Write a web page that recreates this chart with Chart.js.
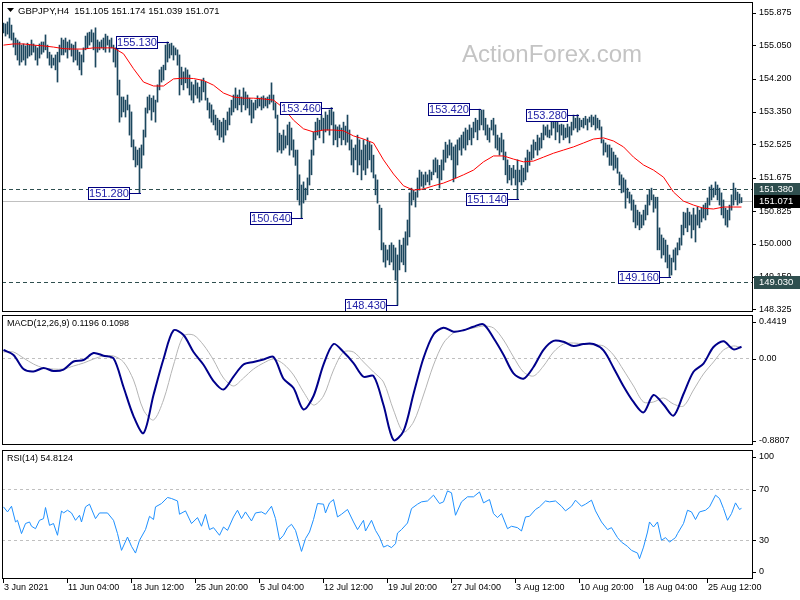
<!DOCTYPE html>
<html>
<head>
<meta charset="utf-8">
<script src="https://cdn.jsdelivr.net/npm/chart.js@4.4.0/dist/chart.umd.min.js"></script>
<style>
body { margin: 0; background: #fff; }
#wrap { position: relative; width: 800px; height: 600px; background: #fff; overflow: hidden; }
canvas { position: absolute; left: 0; }
</style>
</head>
<body>
<div id="wrap">
  <canvas id="priceChart" width="800" height="313" style="top:0px"></canvas>
  <canvas id="macdChart" width="800" height="133" style="top:313px"></canvas>
  <canvas id="rsiChart" width="800" height="154" style="top:446px"></canvas>
</div>
<script>
const FONT = '"Liberation Sans", Arial, sans-serif';
Chart.defaults.font.family = FONT;

// H4 bars, oldest first (index = bar number)
const highs = [
  155.61,155.59,155.64,155.74,155.56,155.36,155.23,155.18,155.13,155.05,
  155.08,155.03,155.10,155.05,155.18,155.08,155.03,154.98,155.08,155.13,
  155.13,155.31,155.05,154.87,154.80,154.72,154.80,154.87,155.05,155.23,
  155.18,155.23,155.13,155.18,155.08,155.05,155.13,154.93,154.87,154.80,
  154.98,155.28,155.36,155.38,155.44,155.36,155.49,155.18,155.13,155.18,
  155.23,155.33,155.28,155.18,155.23,155.05,154.98,154.98,154.16,153.73,
  153.73,153.65,153.78,153.53,153.35,152.64,152.46,152.38,152.43,152.51,
  152.89,153.45,153.73,153.78,153.70,153.76,153.65,154.04,154.42,154.49,
  154.54,155.05,155.13,155.08,155.10,155.03,154.98,154.93,154.80,154.49,
  154.37,154.47,154.42,154.29,154.11,154.04,154.16,154.09,153.98,154.16,
  154.21,154.11,153.70,153.58,153.53,153.40,153.27,153.19,153.14,153.09,
  153.19,153.14,153.35,153.45,153.65,153.78,153.96,153.78,153.91,153.73,
  153.96,153.86,153.78,153.70,153.65,153.58,153.65,153.76,153.70,153.73,
  153.76,153.70,153.73,153.78,154.09,153.78,153.58,153.27,152.81,152.76,
  152.89,152.74,153.02,153.09,152.94,152.64,152.38,152.38,151.75,151.49,
  151.57,151.41,151.67,152.13,152.38,152.84,153.09,153.19,153.14,153.27,
  153.19,153.35,153.27,153.40,153.46,153.35,153.02,152.97,153.02,152.94,
  153.09,152.99,153.27,152.89,152.64,152.43,152.51,152.76,152.64,152.38,
  152.64,152.51,152.69,152.58,152.51,152.25,151.75,151.62,150.98,150.90,
  150.02,149.96,149.84,149.96,150.02,149.96,149.89,149.71,150.09,149.96,
  150.14,150.30,150.60,151.29,151.41,151.36,151.31,151.67,151.87,151.82,
  151.75,151.82,151.75,151.87,151.82,152.13,152.18,152.13,151.99,152.13,
  152.38,152.58,152.51,152.64,152.56,152.46,152.51,152.64,152.69,152.76,
  152.84,152.94,152.89,153.02,152.94,153.09,153.19,153.14,153.42,153.40,
  153.40,153.19,153.02,152.94,153.14,153.19,153.02,152.76,152.69,152.81,
  152.64,152.33,152.13,151.99,151.92,151.99,151.87,152.13,151.87,151.99,
  151.92,152.18,152.38,152.33,152.51,152.64,152.58,152.76,152.69,152.81,
  153.02,152.97,153.02,152.89,153.09,153.27,153.14,153.09,153.02,153.04,
  153.02,152.94,153.04,152.97,153.09,153.27,153.19,153.28,153.19,153.14,
  153.19,153.24,153.17,153.22,153.27,153.22,153.27,153.19,153.14,152.97,
  152.64,152.56,152.51,152.51,152.43,152.33,152.25,152.18,151.82,151.75,
  151.67,151.62,151.41,151.31,151.24,151.11,150.98,150.85,150.80,150.73,
  150.85,150.98,151.24,151.36,151.41,151.24,151.18,151.18,150.40,150.22,
  150.14,150.09,149.96,149.71,149.63,149.84,149.89,150.02,150.14,150.47,
  150.80,150.78,150.90,150.80,150.73,150.90,150.73,150.93,150.85,150.90,
  150.98,151.03,151.16,151.44,151.49,151.41,151.57,151.49,151.41,151.29,
  151.11,150.90,150.85,150.98,151.24,151.54,151.41,151.31,151.26,151.17
];
const lows = [
  155.36,155.28,155.33,155.23,155.18,155.00,154.80,154.67,154.54,154.62,
  154.67,154.54,154.72,154.77,154.80,154.87,154.67,154.54,154.72,154.82,
  154.87,154.93,154.72,154.54,154.47,154.54,154.42,154.11,154.62,154.80,
  154.80,154.87,154.72,154.93,154.77,154.62,154.67,154.54,154.42,154.29,
  154.62,154.93,154.98,155.05,155.13,154.93,154.49,154.87,154.93,154.98,
  154.93,154.87,155.05,154.87,154.98,154.62,154.49,153.78,153.09,153.22,
  153.35,153.22,153.40,152.76,152.46,152.13,151.95,152.00,151.28,151.92,
  152.25,152.71,153.32,153.40,153.14,153.35,153.09,153.60,153.91,154.11,
  154.16,154.42,154.62,154.72,154.80,154.67,154.80,154.54,153.78,154.04,
  153.91,154.09,153.96,153.78,153.65,153.58,153.78,153.70,153.60,153.65,
  153.86,153.65,153.40,153.19,153.09,153.02,152.89,152.76,152.64,152.71,
  152.58,152.76,152.89,153.02,153.27,153.35,153.45,153.40,153.53,153.35,
  153.53,153.40,153.45,153.27,153.07,153.19,153.40,153.45,153.50,153.40,
  153.45,153.50,153.45,153.55,153.60,153.40,153.19,152.33,152.38,152.30,
  152.38,152.43,152.51,152.25,152.38,152.20,151.99,151.11,150.98,150.64,
  151.03,151.11,151.24,151.49,151.75,152.25,152.64,152.76,152.69,152.89,
  152.56,152.84,152.89,152.76,153.02,152.51,152.64,152.46,152.69,152.51,
  152.64,152.51,152.58,152.38,152.00,151.82,152.13,151.75,152.00,151.62,
  151.87,151.75,151.92,152.13,151.82,151.67,151.24,151.03,150.35,149.84,
  149.53,149.40,149.58,149.46,149.53,149.33,149.07,148.43,149.33,149.53,
  149.46,149.28,149.96,150.17,150.98,151.11,150.93,151.18,151.36,151.46,
  151.41,151.49,151.57,151.49,151.62,151.75,151.82,151.67,151.41,151.62,
  151.87,152.07,152.18,152.25,152.13,151.57,151.67,152.00,152.38,152.25,
  152.43,152.38,152.51,152.64,152.51,152.69,152.84,152.64,152.89,153.02,
  152.89,152.76,152.64,152.58,152.89,152.76,152.43,152.38,152.25,152.33,
  152.13,151.75,151.54,151.62,151.49,151.67,151.49,151.14,151.57,151.49,
  151.57,151.62,151.82,151.99,152.13,152.18,152.38,152.25,152.38,152.43,
  152.64,152.76,152.71,152.69,152.76,152.94,152.64,152.84,152.56,152.76,
  152.64,152.69,152.71,152.56,152.76,152.89,152.94,152.84,152.89,152.97,
  152.94,153.02,152.89,153.09,152.97,153.02,152.89,152.94,152.89,152.56,
  152.25,152.33,152.20,151.99,151.99,151.87,151.92,151.79,151.49,151.29,
  151.31,150.90,151.16,151.03,150.85,150.55,150.40,150.47,150.35,150.40,
  150.47,150.60,150.73,150.98,151.11,150.80,150.90,149.84,149.84,149.63,
  149.71,149.53,149.38,149.16,149.20,149.53,149.33,149.71,149.84,149.96,
  150.22,150.40,150.30,150.47,150.14,150.35,150.04,150.47,150.40,150.55,
  150.65,150.60,150.73,150.98,151.11,151.18,151.24,151.11,150.98,150.73,
  150.65,150.47,150.42,150.60,150.85,150.98,151.11,150.98,151.03,151.04
];
const lastBar = ['151.105', '151.174', '151.039', '151.071'];

// moving average, MACD and signal read every 5 bars
const lineIdx = [0,5,10,15,20,25,30,35,40,45,50,55,60,65,70,75,80,85,90,95,100,105,110,115,120,
  125,130,135,140,145,150,155,160,165,170,175,180,185,190,195,200,205,210,215,220,225,230,235,240,
  245,250,255,260,265,270,275,280,285,290,295,300,305,310,315,320,325,330,335,340,345,350,355,360,365,369];
const maValues = [
  155.05,155.08,155.08,155.05,155.03,155.00,154.96,154.95,154.95,154.98,
  154.98,154.98,154.83,154.45,154.11,154.01,154.01,154.19,154.21,154.20,
  154.15,154.03,153.83,153.73,153.70,153.70,153.68,153.65,153.45,153.14,
  152.92,152.84,152.89,152.89,152.87,152.74,152.66,152.56,152.13,151.77,
  151.47,151.36,151.39,151.47,151.54,151.64,151.75,151.87,152.08,152.23,
  152.23,152.15,152.08,152.10,152.20,152.30,152.38,152.46,152.56,152.66,
  152.69,152.61,152.46,152.20,152.00,151.87,151.69,151.31,151.08,150.98,
  150.90,150.88,150.93,150.93,150.93
];
const macdMain = [
  0.086,0.035,-0.108,-0.133,-0.097,-0.128,-0.113,-0.031,-0.016,0.055,
  0.028,0.001,-0.291,-0.586,-0.760,-0.372,-0.006,0.285,0.238,0.065,
  -0.064,-0.230,-0.317,-0.185,-0.062,-0.036,-0.011,0.015,-0.207,-0.301,
  -0.519,-0.382,-0.063,0.147,0.065,-0.047,-0.186,-0.179,-0.474,-0.830,
  -0.740,-0.362,0.004,0.244,0.313,0.272,0.287,0.323,0.347,0.208,
  0.038,-0.151,-0.206,-0.087,0.088,0.179,0.169,0.126,0.147,0.147,
  0.081,-0.094,-0.283,-0.443,-0.549,-0.372,-0.469,-0.583,-0.362,-0.135,
  -0.052,0.116,0.174,0.092,0.1196
];
const macdSignal = [
  0.065,0.065,0.004,-0.057,-0.097,-0.108,-0.108,-0.077,-0.047,-0.006,
  0.025,0.025,-0.036,-0.219,-0.525,-0.626,-0.423,-0.067,0.228,0.238,
  0.137,-0.016,-0.199,-0.280,-0.199,-0.108,-0.047,-0.006,-0.057,-0.168,
  -0.341,-0.474,-0.382,-0.118,0.065,0.065,-0.036,-0.138,-0.240,-0.525,
  -0.748,-0.647,-0.372,-0.067,0.157,0.259,0.289,0.310,0.330,0.310,
  0.188,0.015,-0.138,-0.179,-0.077,0.065,0.147,0.157,0.147,0.137,
  0.127,0.035,-0.118,-0.280,-0.443,-0.443,-0.402,-0.464,-0.484,-0.321,
  -0.158,-0.036,0.086,0.127,0.1098
];

// RSI(14) turning points
const rsiIdx = [0,2,4,6,7,9,11,13,14,16,18,20,21,23,25,27,29,30,32,34,36,38,39,41,43,46,48,52,55,57,
  59,62,64,66,68,71,73,75,76,79,82,84,87,88,91,94,97,99,101,103,105,108,110,112,115,117,119,121,124,126,
  129,131,134,136,138,140,142,144,146,149,151,153,155,157,160,161,163,165,167,169,172,175,177,180,181,184,186,188,190,192,
  194,196,197,199,202,204,207,209,212,215,218,220,222,224,226,229,232,235,238,240,243,245,247,249,252,254,257,259,261,263,
  266,268,271,273,276,279,281,284,286,289,291,294,296,299,302,304,307,309,312,314,317,318,320,322,323,325,327,329,331,333,
  336,337,340,342,344,346,348,351,353,356,358,360,362,364,366,368,369];
const rsiValues = [55.9,52,56.4,44.2,45.5,35.2,43,44.2,40.9,39,45.5,46.8,55.4,41.6,43,33.9,52.8,51.2,53.3,51.2,
  45.5,49.4,44.2,55.9,58,46.8,51.2,51.2,45.5,35.2,22.2,32.5,25.3,20.1,30,38.3,48.6,46.1,55.9,58.5,
  63.2,62.4,60.5,50.2,52.8,43,47.6,40.9,50.2,38.3,39.8,33.9,40.3,37.7,48.1,53.3,46.8,52,45,51.2,
  52,50.2,56.4,46.8,30.5,33.9,39.8,42.4,37.7,21.4,31.3,36.4,46.1,58.5,58,51.2,59,61.6,48.1,50.2,
  53.9,44.2,38.3,45.5,37.2,45.5,37.7,32.5,24.7,26.1,24.3,27.4,35.6,38.3,43.4,54.6,58,59.8,60.5,65,
  58.5,59.8,68.3,66.8,49.4,59.8,63.7,63.7,67.5,59,61.6,50.7,47.6,50.7,39,40.9,39.8,37.2,48.1,48.6,
  53.9,55.9,60.5,59.8,60.5,56.4,52.8,56.4,61.1,56.4,58,61.1,52.8,44.2,38.3,39.8,32.1,28.6,25.3,22.2,
  20.1,15.7,24.7,36.4,44.2,40.3,44.2,30,32.1,28.6,32.1,35.2,43,53.3,52,46.1,52,53.3,55.9,65,
  62.4,54.6,45.5,50.7,59,53.9,54.8];

// swing high/low labels
const swingIdx = [68, 82, 149, 164, 197, 238, 257, 287, 333];
const swingPrice = [151.28, 155.13, 150.64, 153.46, 148.43, 153.42, 151.14, 153.28, 149.16];

const priceTicks = [155.875, 155.050, 154.200, 153.350, 152.525, 151.675, 150.825, 150.000, 149.150, 148.325];
const levelLines = [151.380, 149.030];
const currentPrice = 151.071;

const macdTicks = [0.4419, 0.00, -0.8807];
const macdTickText = ['0.4419', '0.00', '-0.8807'];
const rsiTicks = [100, 70, 30, 0];
const rsiLevels = [70, 30];

const xTickIdx = [0, 32, 64, 96, 128, 160, 192, 224, 256, 288, 320, 352];
const xTickText = ['3 Jun 2021', '11 Jun 04:00', '18 Jun 12:00', '25 Jun 20:00', '5 Jul 04:00', '12 Jul 12:00',
  '19 Jul 20:00', '27 Jul 04:00', '3 Aug 12:00', '10 Aug 20:00', '18 Aug 04:00', '25 Aug 12:00'];

const X_MIN = -0.75, X_MAX = 374.75;

function txt(ctx, s, x, y, size, color, base) {
  ctx.font = size + 'px ' + FONT;
  ctx.fillStyle = color;
  ctx.textAlign = 'left';
  ctx.textBaseline = base || 'middle';
  ctx.fillText(s, x, y);
}

function frame(chart) {
  const {ctx, chartArea: a} = chart;
  ctx.save();
  ctx.strokeStyle = '#000';
  ctx.lineWidth = 1;
  ctx.strokeRect(a.left + 0.5, a.top + 0.5, a.right - a.left - 1, a.bottom - a.top - 1);
  ctx.restore();
}

function hLine(chart, value, color, dash) {
  const {ctx, chartArea: a} = chart;
  const py = Math.round(chart.scales.y.getPixelForValue(value)) + 0.5;
  ctx.save();
  ctx.strokeStyle = color;
  ctx.lineWidth = 1;
  ctx.setLineDash(dash);
  ctx.beginPath();
  ctx.moveTo(a.left, py);
  ctx.lineTo(a.right, py);
  ctx.stroke();
  ctx.restore();
}

function rightLabels(chart, values, labels, shift) {
  const {ctx, chartArea: a} = chart;
  values.forEach((v, k) => {
    const py = chart.scales.y.getPixelForValue(v) + (shift ? shift[k] : 0);
    ctx.fillStyle = '#000';
    ctx.fillRect(a.right - 1, Math.round(py), 4, 1);
    txt(ctx, labels[k], a.right + 6, py, 9, '#000');
  });
}

function priceTag(chart, value, bg) {
  const {ctx, chartArea: a} = chart;
  const py = Math.round(chart.scales.y.getPixelForValue(value));
  ctx.fillStyle = bg;
  ctx.fillRect(a.right + 1, py - 6, 46, 13);
  txt(ctx, value.toFixed(3), a.right + 6, py + 0.5, 9.5, '#fff');
}

function baseOptions(yMin, yMax, pad) {
  return {
    responsive: false,
    animation: false,
    devicePixelRatio: 1,
    events: [],
    layout: { padding: pad },
    plugins: { legend: { display: false }, tooltip: { enabled: false } },
    scales: {
      x: { type: 'linear', min: X_MIN, max: X_MAX, offset: false, display: false },
      y: { type: 'linear', min: yMin, max: yMax, display: false }
    }
  };
}

const pricePanel = {
  id: 'pricePanel',
  beforeDatasetsDraw(chart) {
    const ctx = chart.ctx;
    ctx.save();
    txt(ctx, 'ActionForex.com', 462, 62, 24, '#c4c4c4', 'alphabetic');
    ctx.restore();
    hLine(chart, currentPrice, '#c0c0c0', []);
    levelLines.forEach(v => hLine(chart, v, '#2f4f4f', [4, 3]));
  },
  afterDatasetsDraw(chart) {
    const ctx = chart.ctx;
    const {x, y} = chart.scales;
    ctx.save();
    swingIdx.forEach((i, k) => {
      const bx = Math.round(x.getPixelForValue(i));
      const by = Math.round(y.getPixelForValue(swingPrice[k]));
      ctx.strokeStyle = '#000080';
      ctx.lineWidth = 1;
      ctx.beginPath();
      ctx.moveTo(bx - 10, by + 0.5);
      ctx.lineTo(bx + 1, by + 0.5);
      ctx.stroke();
      ctx.fillStyle = '#fff';
      ctx.fillRect(bx - 52, by - 6, 42, 13);
      ctx.strokeRect(bx - 51.5, by - 5.5, 41, 12);
      ctx.font = '11px ' + FONT;
      ctx.fillStyle = '#2424a8';
      ctx.textAlign = 'center';
      ctx.textBaseline = 'middle';
      ctx.fillText(swingPrice[k].toFixed(3), bx - 31, by + 1);
    });
    ctx.restore();
  },
  afterDraw(chart) {
    const ctx = chart.ctx;
    ctx.save();
    frame(chart);
    rightLabels(chart, priceTicks, priceTicks.map(v => v.toFixed(3)));
    levelLines.forEach(v => priceTag(chart, v, '#2f4f4f'));
    priceTag(chart, currentPrice, '#000');
    ctx.fillStyle = '#000';
    ctx.beginPath();
    ctx.moveTo(7, 8);
    ctx.lineTo(14, 8);
    ctx.lineTo(10.5, 12);
    ctx.closePath();
    ctx.fill();
    txt(ctx, 'GBPJPY,H4  ' + lastBar.join(' '), 18, 11, 9.5, '#000');
    ctx.restore();
  }
};

const macdPanel = {
  id: 'macdPanel',
  beforeDatasetsDraw(chart) {
    hLine(chart, 0, '#c0c0c0', [3, 3]);
  },
  afterDraw(chart) {
    frame(chart);
    rightLabels(chart, macdTicks, macdTickText, [7, 0.5, -4]);
    txt(chart.ctx, 'MACD(12,26,9) ' + macdMain[macdMain.length - 1].toFixed(4) + ' ' +
      macdSignal[macdSignal.length - 1].toFixed(4), 7, 11, 9, '#000');
  }
};

const rsiPanel = {
  id: 'rsiPanel',
  beforeDatasetsDraw(chart) {
    rsiLevels.forEach(v => hLine(chart, v, '#c0c0c0', [3, 3]));
  },
  afterDraw(chart) {
    const {ctx, chartArea: a} = chart;
    frame(chart);
    rightLabels(chart, rsiTicks, rsiTicks.map(String), [7, 1, 0, -7]);
    txt(ctx, 'RSI(14) 54.8124', 7, 13, 9, '#000');
    xTickIdx.forEach((i, k) => {
      const px = Math.floor(chart.scales.x.getPixelForValue(i));
      ctx.fillStyle = '#000';
      ctx.fillRect(px, a.bottom - 1, 1, 5);
      txt(ctx, xTickText[k], px + 1, a.bottom + 9, 9, '#000');
    });
  }
};

const pts = (idx, vals) => idx.map((i, k) => ({ x: i, y: vals[k] }));

new Chart('priceChart', {
  type: 'bar',
  plugins: [pricePanel],
  data: {
    datasets: [
      {
        type: 'line',
        data: pts(lineIdx, maValues),
        borderColor: '#ff0000',
        borderWidth: 1,
        pointRadius: 0,
        tension: 0,
        order: 0
      },
      {
        type: 'bar',
        data: highs.map((h, i) => ({ x: i, y: [lows[i], h] })),
        backgroundColor: '#1c475e',
        borderWidth: 0,
        barThickness: 1,
        grouped: false,
        order: 1
      }
    ]
  },
  options: baseOptions(148.259, 156.147, { left: 2, right: 47, top: 2, bottom: 1 })
});

new Chart('macdChart', {
  type: 'line',
  plugins: [macdPanel],
  data: {
    datasets: [
      {
        data: pts(lineIdx, macdMain),
        borderColor: '#00008b',
        borderWidth: 2,
        pointRadius: 0,
        tension: 0.3,
        order: 0
      },
      {
        data: pts(lineIdx, macdSignal),
        borderColor: '#b4b4b4',
        borderWidth: 1,
        pointRadius: 0,
        tension: 0.3,
        order: 1
      }
    ]
  },
  options: baseOptions(-0.8807, 0.4419, { left: 2, right: 47, top: 2, bottom: 1 })
});

new Chart('rsiChart', {
  type: 'line',
  plugins: [rsiPanel],
  data: {
    datasets: [
      {
        data: pts(rsiIdx, rsiValues),
        borderColor: '#1e90ff',
        borderWidth: 1,
        pointRadius: 0,
        tension: 0
      }
    ]
  },
  options: baseOptions(0, 100, { left: 2, right: 47, top: 4, bottom: 21 })
});
</script>
</body>
</html>
